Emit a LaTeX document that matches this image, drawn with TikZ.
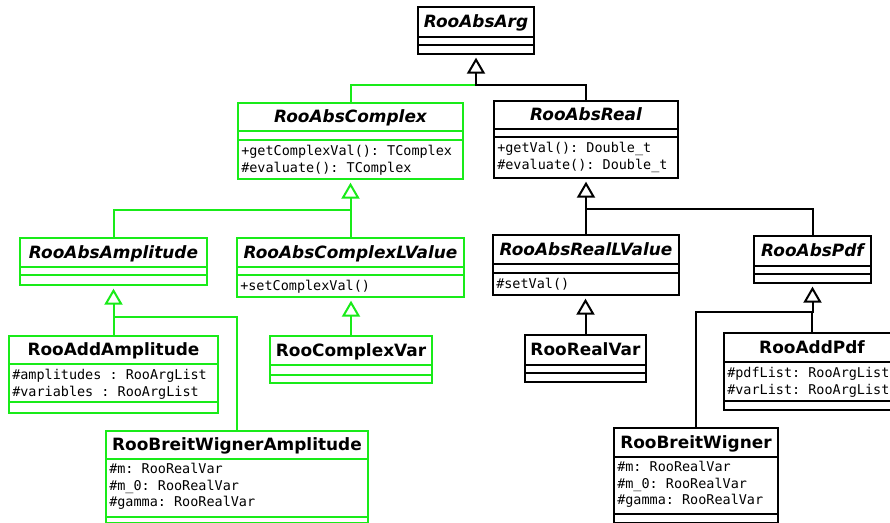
\documentclass[tikz,border=0pt]{standalone}
\usepackage{fontspec}
\setmainfont{DejaVu Sans}
\setmonofont{DejaVu Sans Mono}
\usetikzlibrary{arrows.meta,calc}
\definecolor{umlgreen}{RGB}{25,235,25}

% A UML class box: name, left x, top y, width, height,
% offset of first compartment line, offset of second line, title
\newcommand{\umlclass}[8]{%
  \node[classbox, minimum width=#4*0.75pt, minimum height=#5*0.75pt,
        anchor=north west] (#1) at (#2,#3) {};
  \draw[boxline] ($(#1.north west)+(0,#6)$) -- ($(#1.north east)+(0,#6)$);
  \draw[boxline] ($(#1.north west)+(0,#7)$) -- ($(#1.north east)+(0,#7)$);
  \node[titletext, anchor=base] (#1-title) at ($(#1.north)+(0,{#6/2+6.2})$) {#8};
}
% Member rows: class name, baseline of first row below the box top, rows
\newcommand{\umlrows}[3]{%
  \foreach \row [count=\i] in {#3} {
    \node[rowtext, anchor=base west] (#1-row\i)
      at ($(#1.north west)+(4,{#2+16.5*(\i-1)})$) {\row};
  }
}

\begin{document}
\begin{tikzpicture}[x=0.75pt, y=-0.75pt,
  classbox/.style={draw=\cc, line width=1.5pt, fill=white, inner sep=0pt, rectangle},
  boxline/.style={draw=\cc, line width=1.5pt},
  titletext/.style={font=\bfseries\fontsize{12.7}{15}\selectfont, inner sep=0pt},
  rowtext/.style={font=\ttfamily\fontsize{10.1}{12}\selectfont, inner sep=0pt},
  wire/.style={line width=1.5pt},
  inh/.style={wire, -{Triangle[open, length=12pt, width=13.5pt]}, shorten >=2pt}]
\useasboundingbox (0,0) rectangle (890,523);
\clip (0,0) rectangle (890,523);
\fill[white] (0,0) rectangle (890,523);

% RooAbsReal branch
\def\cc{black}
\umlclass{arg}{417}{6}{116}{47}{31}{39}{\itshape RooAbsArg}
\umlclass{real}{493}{100}{184}{77}{29}{37}{\itshape RooAbsReal}
\umlrows{real}{53}{+getVal(): Double\_t, \#evaluate(): Double\_t}
\umlclass{reallv}{492}{234}{186}{60}{30}{39}{\itshape RooAbsRealLValue}
\umlrows{reallv}{55}{\#setVal()}
\umlclass{realvar}{524}{334}{121}{47}{31}{39}{RooRealVar}
\umlclass{abspdf}{753}{235}{117}{47}{31}{39}{\itshape RooAbsPdf}
\umlclass{addpdf}{723}{332}{176}{77}{30}{69}{RooAddPdf}
\umlrows{addpdf}{46}{\#pdfList: RooArgList, \#varList: RooArgList}
\umlclass{bw}{613}{427}{164}{95}{30}{87}{RooBreitWigner}
\umlrows{bw}{45}{\#m: RooRealVar, \#m\_0: RooRealVar, \#gamma: RooRealVar}

% RooAbsComplex branch
\def\cc{umlgreen}
\umlclass{complex}{237}{102}{225}{76}{29}{38}{\itshape RooAbsComplex}
\umlrows{complex}{54}{+getComplexVal(): TComplex, \#evaluate(): TComplex}
\umlclass{amp}{19}{237}{187}{47}{30}{38}{\itshape RooAbsAmplitude}
\umlclass{clv}{236}{237}{227}{59}{30}{38}{\itshape RooAbsComplexLValue}
\umlrows{clv}{54}{+setComplexVal()}
\umlclass{cvar}{269}{335}{162}{47}{30}{40}{RooComplexVar}
\umlclass{addamp}{8}{335}{209}{77}{29}{67}{RooAddAmplitude}
\umlrows{addamp}{45}{\#amplitudes : RooArgList, \#variables : RooArgList}
\umlclass{bwamp}{105}{430}{262}{92}{29}{87}{RooBreitWignerAmplitude}
\umlrows{bwamp}{44}{\#m: RooRealVar, \#m\_0: RooRealVar, \#gamma: RooRealVar}

% inheritance connectors
\coordinate (jArg) at ($(arg.south)+(0,30)$);
\draw[wire, umlgreen] (complex.north) |- (jArg);
\draw[inh] (real.north) |- (jArg) -- (arg.south);

\coordinate (jComplex) at ($(complex.south)+(0,30)$);
\draw[wire, umlgreen] (amp.north) |- (jComplex);
\draw[inh, umlgreen] (clv.north) |- (jComplex) -- (complex.south);

\coordinate (jAmp) at ($(amp.south)+(0,31)$);
\draw[inh, umlgreen] (bwamp.north) |- (jAmp) -- (amp.south);
\draw[wire, umlgreen] (addamp.north) -- (addamp.north |- jAmp);

\draw[inh, umlgreen] (cvar.north) -- (cvar.north |- clv.south);

\coordinate (jReal) at ($(real.south)+(0,30)$);
\draw[wire] (abspdf.north) |- (jReal);
\draw[inh] (reallv.north) |- (jReal) -- (real.south);

\draw[inh] (realvar.north) -- (realvar.north |- reallv.south);

\coordinate (jPdf) at ($(abspdf.south)+(0,28)$);
\draw[inh] (bw.north) |- (jPdf) -- (abspdf.south);
\draw[wire] (addpdf.north) -- (addpdf.north |- jPdf);
\end{tikzpicture}
\end{document}
